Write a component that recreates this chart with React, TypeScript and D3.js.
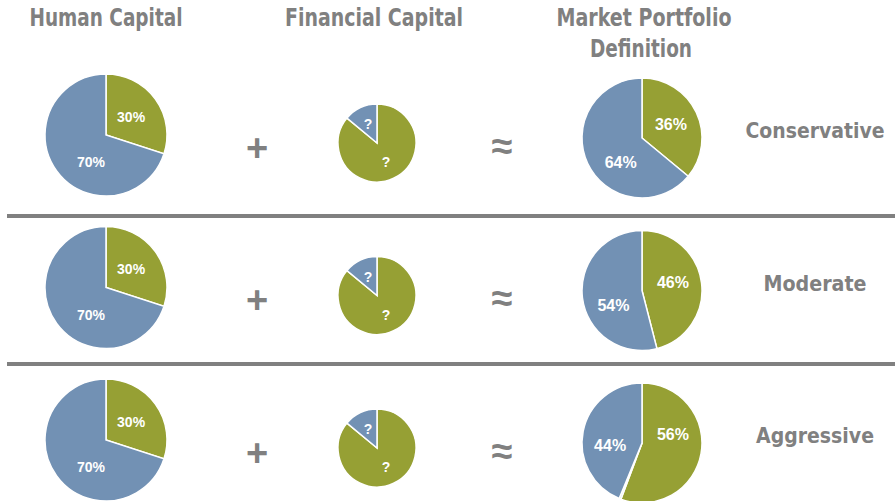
import React, { useEffect, useRef } from 'react';
import * as d3 from 'd3';

// rows and pie values (percent)
const rowNames = ['Conservative', 'Moderate', 'Aggressive'];
const humanGreen = [30, 30, 30];
const humanBlue = [70, 70, 70];
const financialGreen = [86, 86, 86];
const financialBlue = [14, 14, 14];
const marketGreen = [36, 46, 56];
const marketSliver = [0, 0, 0.5];
const marketBlue = [64, 54, 44];
const headers = ['Human Capital', 'Financial Capital', 'Market Portfolio', 'Definition'];

const GREEN = '#96a034';
const BLUE = '#7291b4';
const SLIVER = '#b4d6e6';
const GRAY = '#808080';
const HEAD_FONT = '"Liberation Sans Narrow", "DejaVu Sans Condensed", "Roboto Condensed", sans-serif';
const LABEL_FONT = '"Liberation Sans", Arial, sans-serif';

type Slice = { v: number; c: string; t: string };

// widths of the condensed titles in the original
const headWidth: Record<string, number> = {
    'Human Capital': 153, 'Financial Capital': 178, 'Market Portfolio': 175, 'Definition': 102,
    'Conservative': 139, 'Moderate': 103, 'Aggressive': 118,
};

export default function App() {
    const ref = useRef<SVGSVGElement>(null);

    useEffect(() => {
        const width = 895;
        const height = 501;
        const svg = d3.select(ref.current)
            .attr('width', width)
            .attr('height', height);
        svg.selectAll('*').remove();

        const rowY = d3.scalePoint<string>().domain(rowNames).range([135, 440]);
        const colX = { human: 106, financial: 377, market: 642, plus: 257, approx: 502, label: 815 };

        const pie = d3.pie<Slice>().value(d => d.v).sort(null);

        // label angle: green labels stay in the upper right, blue ones lean to lower left
        function labelAngle(d: d3.PieArcDatum<Slice>) {
            if (d.data.c === GREEN && d.index === 0) return Math.min((d.startAngle + d.endAngle) / 2, (75 * Math.PI) / 180);
            return d.startAngle + 0.4 * (d.endAngle - d.startAngle);
        }

        function drawPie(cx: number, cy: number, r: number, slices: Slice[], labelR: number, fontSize: number, useMid = false) {
            const g = svg.append('g').attr('transform', `translate(${cx},${cy})`);
            const arc = d3.arc<d3.PieArcDatum<Slice>>().innerRadius(0).outerRadius(r);
            const arcs = pie(slices.filter(d => d.v > 0));
            g.selectAll('path')
                .data(arcs)
                .enter()
                .append('path')
                .attr('d', arc)
                .attr('fill', d => d.data.c)
                .attr('stroke', '#fff')
                .attr('stroke-width', 1.5);
            g.selectAll('text')
                .data(arcs.filter(d => d.data.t))
                .enter()
                .append('text')
                .attr('transform', d => {
                    const a = useMid ? (d.startAngle + d.endAngle) / 2 : labelAngle(d);
                    return `translate(${Math.sin(a) * labelR},${-Math.cos(a) * labelR})`;
                })
                .attr('text-anchor', 'middle')
                .attr('dy', '0.36em')
                .attr('fill', '#fff')
                .attr('font-family', LABEL_FONT)
                .attr('font-weight', 'bold')
                .attr('font-size', fontSize)
                .text(d => d.data.t);
        }

        function condensed(sel: d3.Selection<SVGTextElement, any, any, any>, t: string) {
            sel.attr('fill', GRAY)
                .attr('font-family', HEAD_FONT)
                .attr('font-weight', 'bold')
                .attr('text-anchor', 'middle')
                .attr('textLength', headWidth[t])
                .attr('lengthAdjust', 'spacingAndGlyphs')
                .text(t);
        }

        // headers
        const head = [
            { t: headers[0], x: colX.human, y: 26 },
            { t: headers[1], x: 374, y: 26 },
            { t: headers[2], x: 644, y: 26 },
            { t: headers[3], x: 641, y: 57 },
        ];
        head.forEach(h => {
            const t = svg.append('text').attr('x', h.x).attr('y', h.y).attr('font-size', 24);
            condensed(t, h.t);
        });

        // separators
        [216, 364].forEach(y => {
            svg.append('line')
                .attr('x1', 7).attr('x2', width)
                .attr('y1', y).attr('y2', y)
                .attr('stroke', GRAY)
                .attr('stroke-width', 4);
        });

        rowNames.forEach((name, i) => {
            const y = rowY(name)!;
            drawPie(colX.human, y, 61, [
                { v: humanGreen[i], c: GREEN, t: humanGreen[i] + '%' },
                { v: humanBlue[i], c: BLUE, t: humanBlue[i] + '%' },
            ], 31, 14);
            drawPie(colX.financial, y + 8, 39, [
                { v: financialGreen[i], c: GREEN, t: '?' },
                { v: financialBlue[i], c: BLUE, t: '?' },
            ], 21, 14, true);
            drawPie(colX.market, y + 3, 60, [
                { v: marketGreen[i], c: GREEN, t: marketGreen[i] + '%' },
                { v: marketSliver[i], c: SLIVER, t: '' },
                { v: marketBlue[i], c: BLUE, t: marketBlue[i] + '%' },
            ], 32, 16);

            svg.append('text')
                .attr('x', colX.plus).attr('y', y + 12)
                .attr('dy', '0.36em')
                .attr('text-anchor', 'middle')
                .attr('fill', GRAY)
                .attr('font-family', LABEL_FONT)
                .attr('font-weight', 'bold')
                .attr('font-size', 38)
                .text('+');
            svg.append('text')
                .attr('x', colX.approx).attr('y', y + 10)
                .attr('dy', '0.36em')
                .attr('text-anchor', 'middle')
                .attr('fill', GRAY)
                .attr('font-family', LABEL_FONT)
                .attr('font-weight', 'bold')
                .attr('font-size', 38)
                .text('≈');
            const t = svg.append('text')
                .attr('x', colX.label).attr('y', y + 3)
                .attr('font-size', 22);
            condensed(t, name);
        });
    }, []);

    return (
        <svg ref={ref} style={{ position: 'absolute', left: 0, top: 0, background: '#fff' }} />
    );
}
